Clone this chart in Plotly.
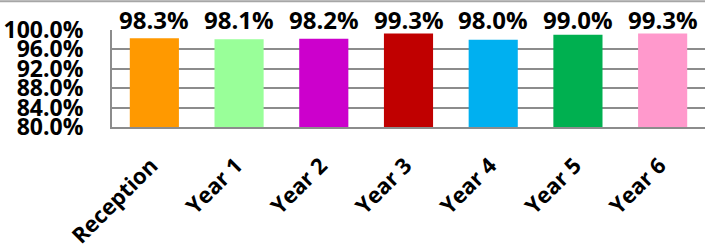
import plotly.graph_objects as go

categories = ["Reception", "Year 1", "Year 2", "Year 3", "Year 4", "Year 5", "Year 6"]
values = [98.3, 98.1, 98.2, 99.3, 98.0, 99.0, 99.3]
colors = ["#FF9900", "#99FF99", "#CC00CC", "#C00000", "#00B0F0", "#00B050", "#FF99CC"]
y_ticks = [80, 84, 88, 92, 96, 100]
y_tick_labels = [f"{v:.1f}%" for v in y_ticks]

FONT = "Open Sans"

fig = go.Figure()
fig.add_trace(go.Bar(
    x=categories,
    y=values,
    marker=dict(color=colors, line=dict(width=0)),
    width=0.58,
    hoverinfo="skip",
))

annotations = []
for c, v in zip(categories, values):
    annotations.append(dict(
        x=c, y=1, xref="x", yref="paper",
        text=f"{v:.1f}%", showarrow=False,
        yanchor="bottom", yshift=-8,
        font=dict(family=FONT, size=24, color="black", weight="bold"),
    ))

fig.update_layout(
    width=705, height=244,
    margin=dict(l=112, r=0, t=30, b=116.5, pad=0, autoexpand=False),
    paper_bgcolor="white",
    plot_bgcolor="white",
    showlegend=False,
    annotations=annotations,
    font=dict(family=FONT, color="black"),
    shapes=[dict(type="line", xref="paper", yref="paper",
                 x0=-112/593, x1=1, y0=1 + 29/97.5, y1=1 + 29/97.5,
                 line=dict(color="#A6A6A6", width=2))],
)
fig.update_xaxes(
    type="category",
    tickangle=-45,
    automargin=False,
    tickfont=dict(family=FONT, size=22, color="black", weight="bold"),
    showline=True, linecolor="#8C8C8C", linewidth=2,
    showgrid=False, ticks="",
    ticklabelstandoff=15,
    ticklabelshift=-3,
)
fig.update_yaxes(
    range=[80, 100],
    automargin=False,
    tickvals=y_ticks,
    ticktext=y_tick_labels,
    tickfont=dict(family=FONT, size=23, color="black", weight="bold"),
    showline=True, linecolor="#8C8C8C", linewidth=2,
    showgrid=True, gridcolor="#8C8C8C", gridwidth=2,
    zeroline=False, ticks="",
    ticklabelstandoff=22,
)

fig.write_html(
    "out.html",
    config={"displayModeBar": False},
    post_script="document.body.style.margin='0';document.body.style.overflow='hidden';",
)
